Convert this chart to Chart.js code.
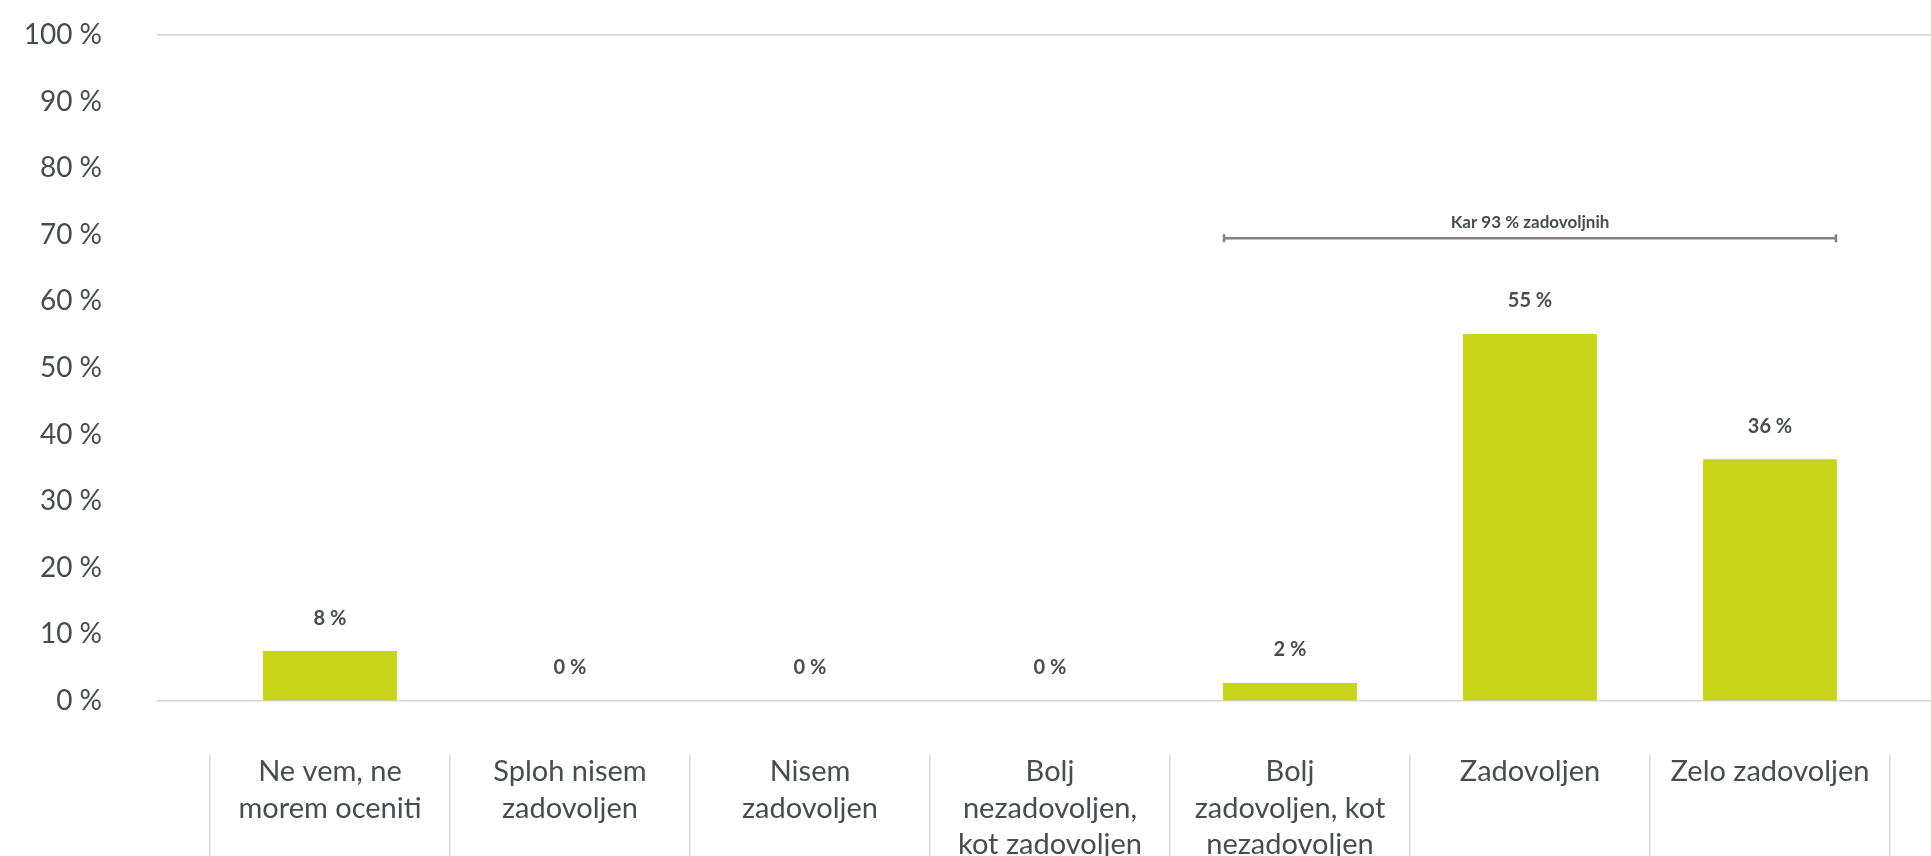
<!DOCTYPE html>
<html lang="sl">
<head>
<meta charset="utf-8">
<title>Zadovoljstvo</title>
<script src="https://cdn.jsdelivr.net/npm/chart.js@4.4.1/dist/chart.umd.min.js"></script>
<style>
  html, body { margin: 0; padding: 0; background: #fff; }
  #wrap { width: 1931px; height: 856px; }
</style>
</head>
<body>
<div id="wrap"><canvas id="chart" width="1931" height="856"></canvas></div>
<script>
const categories = [
    ['Ne vem, ne', 'morem oceniti'],
    ['Sploh nisem', 'zadovoljen'],
    ['Nisem', 'zadovoljen'],
    ['Bolj', 'nezadovoljen,', 'kot zadovoljen'],
    ['Bolj', 'zadovoljen, kot', 'nezadovoljen'],
    ['Zadovoljen'],
    ['Zelo zadovoljen']
];
const shares = [7.5, 0, 0, 0, 2.7, 55.1, 36.3];
const shareLabels = ['8 %', '0 %', '0 %', '0 %', '2 %', '55 %', '36 %'];
const yTicks = [0, 10, 20, 30, 40, 50, 60, 70, 80, 90, 100];
const gridLinesAt = [0, 100];

// bracket over the "satisfied" bars
const bracketText = 'Kar 93 % zadovoljnih';
const bracketFrom = 4;
const bracketTo = 6;
const bracketLevel = 69.5;

const textColor = '#474c51';
const gridColor = '#d6d6d6';
const fontFamily = 'Lato, "Open Sans", sans-serif';

const setTicks = scale => { scale.ticks = yTicks.map(v => ({ value: v })); };
const noEdgePadding = scale => { scale.paddingTop = 0; scale.paddingBottom = 0; };
const gridLineColor = ctx => gridLinesAt.includes(ctx.tick && ctx.tick.value) ? gridColor : 'rgba(0,0,0,0)';

const valueLabels = {
    id: 'valueLabels',
    afterDatasetsDraw(chart) {
        const ctx = chart.ctx;
        const meta = chart.getDatasetMeta(0);
        ctx.save();
        ctx.font = 'bold 20px ' + fontFamily;
        ctx.fillStyle = textColor;
        ctx.textAlign = 'center';
        ctx.textBaseline = 'middle';
        meta.data.forEach((bar, i) => {
            ctx.fillText(shareLabels[i], bar.x, bar.y - 33);
        });
        ctx.restore();
    }
};

const bracket = {
    id: 'bracket',
    afterDraw(chart) {
        const ctx = chart.ctx;
        const meta = chart.getDatasetMeta(0);
        const a = meta.data[bracketFrom];
        const b = meta.data[bracketTo];
        const left = a.x - a.width / 2;
        const right = b.x + b.width / 2;
        const y = chart.scales.y.getPixelForValue(bracketLevel);
        ctx.save();
        ctx.strokeStyle = '#808080';
        ctx.lineWidth = 2.5;
        ctx.beginPath();
        ctx.moveTo(left, y);
        ctx.lineTo(right, y);
        ctx.moveTo(left + 1, y - 4);
        ctx.lineTo(left + 1, y + 4);
        ctx.moveTo(right - 1, y - 4);
        ctx.lineTo(right - 1, y + 4);
        ctx.stroke();
        ctx.font = 'bold 17px ' + fontFamily;
        ctx.fillStyle = textColor;
        ctx.textAlign = 'center';
        ctx.textBaseline = 'middle';
        ctx.fillText(bracketText, (left + right) / 2, y - 16);
        ctx.restore();
    }
};

new Chart(document.getElementById('chart').getContext('2d'), {
    type: 'bar',
    data: {
        labels: categories,
        datasets: [{
            data: shares,
            backgroundColor: '#c8d41a',
            borderWidth: 0,
            barPercentage: 0.558,
            categoryPercentage: 1
        }]
    },
    options: {
        responsive: false,
        animation: false,
        devicePixelRatio: 1,
        layout: { padding: { top: 35, left: 0, right: 0, bottom: 0 } },
        plugins: {
            legend: { display: false },
            tooltip: { enabled: false }
        },
        scales: {
            x: {
                afterFit: s => { s.height = 155; },
                border: { display: false },
                grid: {
                    offset: true,
                    drawOnChartArea: false,
                    drawTicks: true,
                    tickLength: 155,
                    tickBorderDash: [0, 54, 1000],
                    color: '#d9d9d9',
                    lineWidth: 1.5
                },
                ticks: {
                    padding: -103,
                    autoSkip: false,
                    maxRotation: 0,
                    color: textColor,
                    font: { family: fontFamily, size: 29, lineHeight: 1.27 }
                }
            },
            y: {
                min: 0,
                max: 100,
                afterFit: s => { s.width = 210; noEdgePadding(s); },
                afterBuildTicks: setTicks,
                border: { display: false },
                grid: { color: gridLineColor, lineWidth: 1.5, drawTicks: true, tickLength: 53 },
                ticks: {
                    padding: 55,
                    color: textColor,
                    font: { family: fontFamily, size: 28 },
                    callback: v => v + ' %'
                }
            },
            yRight: {
                position: 'right',
                min: 0,
                max: 100,
                afterFit: s => { s.width = 41; noEdgePadding(s); },
                afterBuildTicks: setTicks,
                border: { display: false },
                grid: { color: gridLineColor, lineWidth: 1.5, drawOnChartArea: false, drawTicks: true, tickLength: 41 },
                ticks: { display: false }
            }
        }
    },
    plugins: [valueLabels, bracket]
});
</script>
</body>
</html>
